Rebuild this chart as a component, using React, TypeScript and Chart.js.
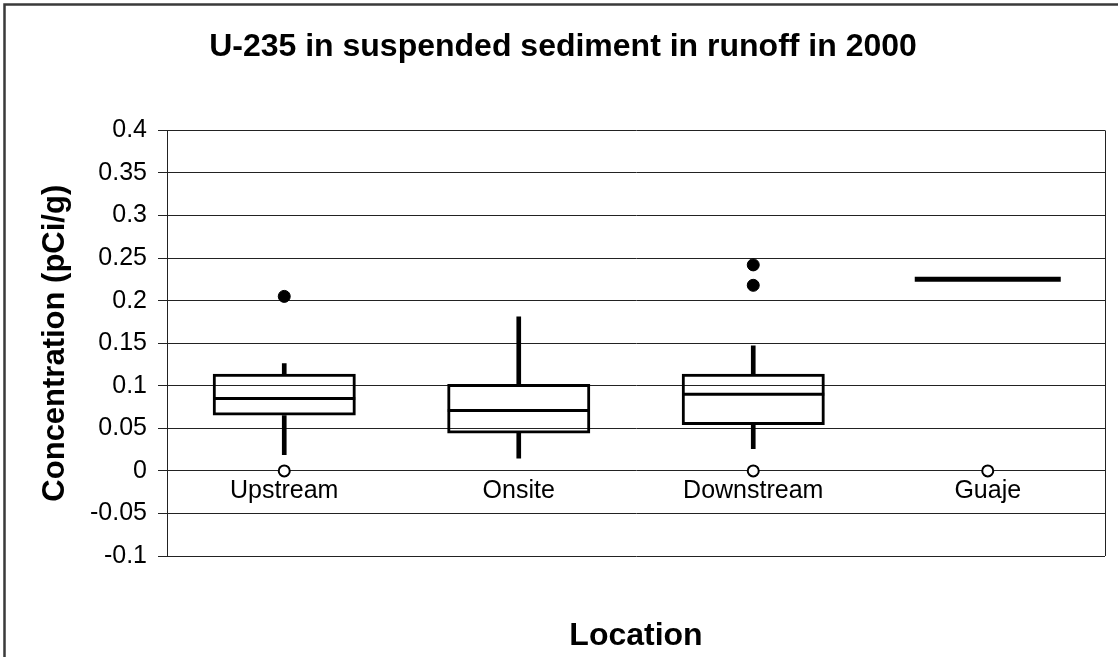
import React, { useEffect, useRef } from 'react';
import { Chart, registerables } from 'chart.js';

Chart.register(...registerables);

const FONT = "'Liberation Sans', Arial, sans-serif";

const categories = ['Upstream', 'Onsite', 'Downstream', 'Guaje'];
const whiskerLow = [0.019, 0.015, 0.026, 0.225];
const q1 = [0.065, 0.044, 0.054, 0.225];
const median = [0.085, 0.071, 0.09, 0.225];
const q3 = [0.114, 0.102, 0.114, 0.225];
const whiskerHigh = [0.126, 0.181, 0.147, 0.225];
const highOutliers = [
  { x: 'Upstream', y: 0.205 },
  { x: 'Downstream', y: 0.242 },
  { x: 'Downstream', y: 0.218 },
];
const lowOutliers = [
  { x: 'Upstream', y: 0 },
  { x: 'Downstream', y: 0 },
  { x: 'Guaje', y: 0 },
];
const yTickValues = [-0.1, -0.05, 0, 0.05, 0.1, 0.15, 0.2, 0.25, 0.3, 0.35, 0.4];
const yTickLabels = ['-0.1', '-0.05', '0', '0.05', '0.1', '0.15', '0.2', '0.25', '0.3', '0.35', '0.4'];

const framePlugin = {
  id: 'frame',
  beforeDraw(chart: any) {
    const { ctx, width, height } = chart;
    ctx.save();
    ctx.fillStyle = '#ffffff';
    ctx.fillRect(0, 0, width, height);
    ctx.strokeStyle = '#3a3a3a';
    ctx.lineWidth = 2.5;
    ctx.strokeRect(4.5, 4.5, width + 50, height + 50);
    ctx.restore();
  },
  afterDraw(chart: any) {
    const { ctx, chartArea } = chart;
    ctx.save();
    ctx.strokeStyle = '#222222';
    ctx.lineWidth = 1;
    ctx.beginPath();
    ctx.moveTo(Math.round(chartArea.right) + 0.5, chartArea.top);
    ctx.lineTo(Math.round(chartArea.right) + 0.5, chartArea.bottom);
    ctx.stroke();
    ctx.restore();
  },
};

export default function App() {
  const canvasRef = useRef<HTMLCanvasElement | null>(null);

  useEffect(() => {
    document.body.style.margin = '0';
    const canvas = canvasRef.current;
    if (!canvas) return;

    const chart = new Chart(canvas, {
      type: 'bar',
      data: {
        labels: categories,
        datasets: [
          {
            type: 'bar',
            label: 'Box',
            data: categories.map((_, i) => [q1[i], q3[i]]) as any,
            backgroundColor: 'rgba(0,0,0,0)',
            borderColor: '#000000',
            borderWidth: 3,
            borderSkipped: false,
            barPercentage: 0.61,
            categoryPercentage: 1,
            grouped: false,
            order: 3,
          } as any,
          {
            type: 'bar',
            label: 'Upper whisker',
            data: categories.map((_, i) => [q3[i], whiskerHigh[i]]) as any,
            backgroundColor: '#000000',
            borderWidth: 0,
            barThickness: 4,
            grouped: false,
            order: 4,
          } as any,
          {
            type: 'bar',
            label: 'Lower whisker',
            data: categories.map((_, i) => [whiskerLow[i], q1[i]]) as any,
            backgroundColor: '#000000',
            borderWidth: 0,
            barThickness: 4,
            grouped: false,
            order: 4,
          } as any,
          {
            type: 'line',
            label: 'Median',
            data: median,
            showLine: false,
            pointStyle: 'line',
            pointRadius: [71, 71, 71, 73],
            pointBorderWidth: [3, 3, 3, 5],
            pointBorderColor: '#000000',
            pointBackgroundColor: '#000000',
            order: 2,
          } as any,
          {
            type: 'line',
            label: 'High outliers',
            data: highOutliers as any,
            showLine: false,
            pointStyle: 'circle',
            pointRadius: 6,
            pointBorderWidth: 1,
            pointBorderColor: '#000000',
            pointBackgroundColor: '#000000',
            order: 1,
          } as any,
          {
            type: 'line',
            label: 'Low outliers',
            data: lowOutliers as any,
            showLine: false,
            pointStyle: 'circle',
            pointRadius: 5.5,
            pointBorderWidth: 2,
            pointBorderColor: '#000000',
            pointBackgroundColor: '#ffffff',
            order: 1,
          } as any,
        ],
      },
      options: {
        responsive: false,
        animation: false,
        devicePixelRatio: 1,
        events: [],
        layout: { autoPadding: false, padding: { left: 8, right: 0, top: 0, bottom: 0 } },
        plugins: {
          legend: { display: false },
          tooltip: { enabled: false },
          title: {
            display: true,
            text: 'U-235 in suspended sediment in runoff in 2000',
            color: '#000000',
            font: { family: FONT, size: 32, weight: 'bold' },
            padding: { top: 28, bottom: 64 },
          },
        },
        scales: {
          x: {
            type: 'category',
            position: { y: 0 } as any,
            offset: true,
            grid: { display: false, drawTicks: false },
            border: { display: false },
            ticks: {
              autoSkip: false,
              maxRotation: 0,
              padding: 5,
              color: '#000000',
              font: { family: FONT, size: 25 },
            },
            afterFit: (s: any) => {
              s.height = 0;
              s.paddingLeft = 0;
              s.paddingRight = 13;
            },
          },
          x2: {
            type: 'category',
            position: 'bottom',
            offset: true,
            grid: { display: false, drawTicks: false },
            border: { display: false },
            ticks: { display: false },
            title: {
              display: true,
              text: 'Location',
              color: '#000000',
              font: { family: FONT, size: 32, weight: 'bold' },
              padding: { top: 0, bottom: 2 },
            },
            afterFit: (s: any) => {
              s.height = 101;
              s.paddingLeft = 0;
              s.paddingRight = 13;
            },
          },
          y: {
            type: 'linear',
            min: -0.1,
            max: 0.4,
            afterBuildTicks: (s: any) => {
              s.ticks = yTickValues.map((v) => ({ value: v }));
            },
            afterFit: (s: any) => {
              s.width = 159;
            },
            grid: {
              color: '#222222',
              lineWidth: 1,
              drawTicks: true,
              tickLength: 9,
              tickColor: '#222222',
            },
            border: { display: true, color: '#222222', width: 1 },
            ticks: {
              padding: 11,
              color: '#000000',
              font: { family: FONT, size: 25 },
              callback: (value: any) => {
                const idx = yTickValues.findIndex((v) => Math.abs(v - Number(value)) < 1e-9);
                return idx >= 0 ? yTickLabels[idx] : '';
              },
            },
            title: {
              display: true,
              text: 'Concentration (pCi/g)',
              color: '#000000',
              font: { family: FONT, size: 31, weight: 'bold' },
              padding: { top: 29, bottom: 0 },
            },
          },
        },
      },
      plugins: [framePlugin],
    });

    return () => {
      chart.destroy();
    };
  }, []);

  return (
    <div style={{ width: 1118, height: 657, position: 'relative' }}>
      <canvas ref={canvasRef} width={1118} height={657} style={{ display: 'block' }} />
    </div>
  );
}
